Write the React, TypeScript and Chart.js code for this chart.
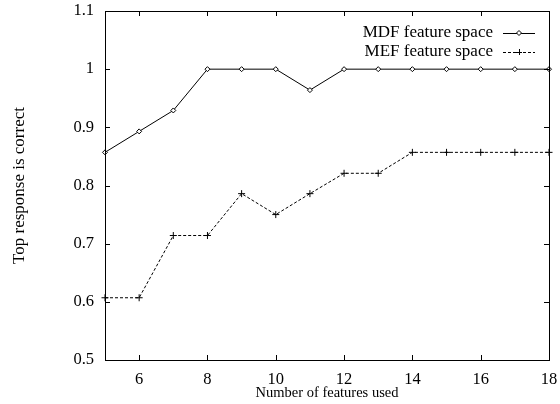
import React, { useEffect, useRef } from "react";
import { Chart, registerables } from "chart.js";

Chart.register(...registerables);

const features = [5, 6, 7, 8, 9, 10, 11, 12, 13, 14, 15, 16, 17, 18];
const mdfValues = [0.857, 0.893, 0.929, 1, 1, 1, 0.964, 1, 1, 1, 1, 1, 1, 1];
const mefValues = [0.607, 0.607, 0.714, 0.714, 0.786, 0.75, 0.786, 0.821, 0.821, 0.857, 0.857, 0.857, 0.857, 0.857];
const xTicks = [6, 8, 10, 12, 14, 16, 18];
const yTicks = [0.5, 0.6, 0.7, 0.8, 0.9, 1, 1.1];
const seriesNames = ["MDF feature space", "MEF feature space"];

const FONT = "'Liberation Serif', 'Times New Roman', serif";

const frame = {
  id: "frame",
  afterDraw(chart: any) {
    const { ctx, chartArea: a, scales } = chart;
    ctx.save();
    ctx.strokeStyle = "#000";
    ctx.lineWidth = 1;
    ctx.strokeRect(Math.round(a.left) + 0.5, Math.round(a.top) + 0.5, Math.round(a.right - a.left), Math.round(a.bottom - a.top));
    const t = 5;
    ctx.beginPath();
    xTicks.forEach((v) => {
      const x = Math.round(scales.x.getPixelForValue(v)) + 0.5;
      ctx.moveTo(x, a.bottom);
      ctx.lineTo(x, a.bottom - t);
      ctx.moveTo(x, a.top);
      ctx.lineTo(x, a.top + t);
    });
    yTicks.forEach((v) => {
      const y = Math.round(scales.y.getPixelForValue(v)) + 0.5;
      ctx.moveTo(a.left, y);
      ctx.lineTo(a.left + t, y);
      ctx.moveTo(a.right, y);
      ctx.lineTo(a.right - t, y);
    });
    ctx.stroke();

    // legend
    ctx.font = "17px " + FONT;
    ctx.fillStyle = "#000";
    ctx.textAlign = "right";
    ctx.textBaseline = "middle";
    const rows = [33, 52];
    const textRight = 493;
    const l0 = 503, l1 = 535, mid = 519;
    chart.data.datasets.forEach((ds: any, i: number) => {
      const y = rows[i];
      ctx.fillText(seriesNames[i], textRight, y);
      ctx.beginPath();
      ctx.setLineDash(ds.borderDash || []);
      ctx.moveTo(l0, y + 0.5);
      ctx.lineTo(l1, y + 0.5);
      ctx.stroke();
      ctx.setLineDash([]);
      ctx.beginPath();
      if (i === 0) {
        const r = 2.5;
        ctx.moveTo(mid, y - r);
        ctx.lineTo(mid + r, y);
        ctx.lineTo(mid, y + r);
        ctx.lineTo(mid - r, y);
        ctx.closePath();
        ctx.fillStyle = "#fff";
        ctx.fill();
        ctx.stroke();
        ctx.fillStyle = "#000";
      } else {
        const r = 3;
        ctx.moveTo(mid - r, y + 0.5);
        ctx.lineTo(mid + r, y + 0.5);
        ctx.moveTo(mid + 0.5, y - r);
        ctx.lineTo(mid + 0.5, y + r);
        ctx.stroke();
      }
    });
    ctx.restore();
  },
};

export default function App() {
  const ref = useRef<HTMLCanvasElement>(null);
  useEffect(() => {
    if (!ref.current) return;
    const chart = new Chart(ref.current, {
      type: "line",
      data: {
        labels: features,
        datasets: [
          {
            label: seriesNames[0],
            data: features.map((x, i) => ({ x, y: mdfValues[i] })),
            borderColor: "#000",
            borderWidth: 1,
            pointStyle: "rectRot",
            pointRadius: 2.5,
            pointBorderWidth: 1,
            pointBackgroundColor: "#fff",
            pointBorderColor: "#000",
            tension: 0,
            clip: 4,
          },
          {
            label: seriesNames[1],
            data: features.map((x, i) => ({ x, y: mefValues[i] })),
            borderColor: "#000",
            borderWidth: 1,
            borderDash: [3, 2],
            pointStyle: "cross",
            pointRadius: 3.5,
            pointBorderWidth: 1,
            pointBorderColor: "#000",
            tension: 0,
            clip: 4,
          },
        ],
      },
      options: {
        animation: false,
        responsive: false,
        maintainAspectRatio: false,
        layout: { padding: { top: 11, right: 11, left: 0, bottom: 0 } },
        plugins: { legend: { display: false }, tooltip: { enabled: false } },
        scales: {
          x: {
            type: "linear",
            min: 5,
            max: 18,
            afterBuildTicks: (s: any) => {
              s.ticks = xTicks.map((v) => ({ value: v }));
            },
            afterFit: (s: any) => {
              s.height = 44;
              s.paddingLeft = 0;
              s.paddingRight = 0;
            },
            grid: { display: false, drawTicks: false },
            border: { display: false },
            ticks: { color: "#000", font: { family: FONT, size: 16.5 }, padding: 10, maxRotation: 0 },
            title: {
              display: true,
              text: "Number of features used",
              color: "#000",
              font: { family: FONT, size: 14.5 },
              padding: { top: 0, bottom: 2 },
            },
          },
          y: {
            type: "linear",
            min: 0.5,
            max: 1.1,
            afterBuildTicks: (s: any) => {
              s.ticks = yTicks.map((v) => ({ value: v }));
            },
            afterFit: (s: any) => {
              s.width = 105;
              s.paddingTop = 0;
              s.paddingBottom = 0;
            },
            grid: { display: false, drawTicks: false },
            border: { display: false },
            ticks: {
              color: "#000",
              font: { family: FONT, size: 16.5 },
              padding: 11,
              callback: (v: any) => String(Number(Number(v).toFixed(2))),
            },
            title: {
              display: true,
              text: "Top response is correct",
              color: "#000",
              font: { family: FONT, size: 17 },
              padding: { top: 9, bottom: 0 },
            },
          },
        },
      },
      plugins: [frame],
    });
    return () => chart.destroy();
  }, []);
  return (
    <div style={{ position: "fixed", left: 0, top: 0, width: 560, height: 404, background: "#fff" }}>
      <canvas ref={ref} width={560} height={404} style={{ width: 560, height: 404 }} />
    </div>
  );
}
